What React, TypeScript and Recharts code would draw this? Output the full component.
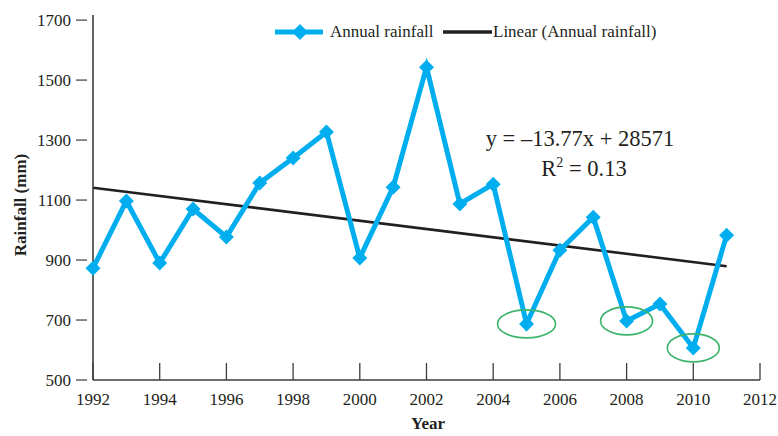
import { LineChart, Line, XAxis, YAxis, ReferenceLine, ReferenceDot } from "recharts";

const years = [1992, 1993, 1994, 1995, 1996, 1997, 1998, 1999, 2000, 2001, 2002, 2003, 2004, 2005, 2006, 2007, 2008, 2009, 2010, 2011];
const rainfall = [873, 1097, 890, 1070, 977, 1157, 1240, 1327, 907, 1143, 1543, 1087, 1153, 687, 933, 1043, 697, 753, 607, 983];
const xTicks = [1992, 1994, 1996, 1998, 2000, 2002, 2004, 2006, 2008, 2010, 2012];
const yTicks = [500, 700, 900, 1100, 1300, 1500, 1700];
// fitted trend, as printed on the chart
const trendSlope = -13.77;
const trendIntercept = 28571;
const circledYears = [2005, 2008, 2010];

const data = years.map((year, i) => ({ year, rainfall: rainfall[i] }));
const trendAt = (year: number) => trendSlope * year + trendIntercept;

const BLUE = "#00aeef";
const INK = "#231f20";
const AXIS = "#3d3d3d";
const GREEN = "#3cb46e";
const FONT = "'Liberation Serif', 'Times New Roman', serif";

const Diamond = (props: any) => {
  const { cx, cy, index } = props;
  const r = 7.5;
  return (
    <polygon
      key={`d-${index}`}
      points={`${cx},${cy - r} ${cx + r},${cy} ${cx},${cy + r} ${cx - r},${cy}`}
      fill={BLUE}
    />
  );
};

const XTick = (props: any) => {
  const { x, y, payload } = props;
  return (
    <g>
      <line x1={x} x2={x} y1={y} y2={y - 17} stroke={AXIS} strokeWidth={1.3} />
      <text x={x} y={y + 25} textAnchor="middle" fontSize={17} fontFamily={FONT} fill={INK}>
        {payload.value}
      </text>
    </g>
  );
};

const YTick = (props: any) => {
  const { x, y, payload } = props;
  return (
    <g>
      <line x1={x - 17} x2={x - 6} y1={y} y2={y} stroke={AXIS} strokeWidth={1.2} />
      <text x={x - 22} y={y + 6} textAnchor="end" fontSize={17} fontFamily={FONT} fill={INK}>
        {payload.value}
      </text>
    </g>
  );
};

const Ring = (rx: number) => (props: any) => (
  <ellipse cx={props.cx} cy={props.cy} rx={rx} ry={14} fill="none" stroke={GREEN} strokeWidth={1.6} />
);

export default function App() {
  return (
    <div style={{ position: "absolute", left: 0, top: 0, width: 778, height: 436, background: "#fff" }}>
      <LineChart width={778} height={436} data={data} margin={{ top: 15, right: 18, bottom: 26, left: 33 }}>
        <XAxis
          dataKey="year"
          type="number"
          domain={[1992, 2012]}
          ticks={xTicks}
          interval={0}
          height={30}
          tickSize={0}
          tickMargin={0}
          tickLine={false}
          axisLine={{ stroke: AXIS, strokeWidth: 1.6 }}
          tick={<XTick />}
        />
        <YAxis
          type="number"
          domain={[500, 1717]}
          ticks={yTicks}
          interval={0}
          width={60}
          tickSize={0}
          tickMargin={0}
          tickLine={false}
          axisLine={{ stroke: AXIS, strokeWidth: 1.6 }}
          tick={<YTick />}
        />
        <ReferenceLine
          segment={[
            { x: 1992, y: trendAt(1992) },
            { x: 2011, y: trendAt(2011) },
          ]}
          stroke={INK}
          strokeWidth={2.6}
          ifOverflow="visible"
        />
        <Line
          type="linear"
          dataKey="rainfall"
          stroke={BLUE}
          strokeWidth={5}
          dot={Diamond}
          activeDot={false}
          isAnimationActive={false}
        />
        {circledYears.map((yr) => (
          <ReferenceDot
            key={yr}
            x={yr}
            y={rainfall[years.indexOf(yr)]}
            r={14}
            shape={Ring(yr === 2005 ? 29 : 26)}
            ifOverflow="visible"
          />
        ))}
      </LineChart>
      <svg
        width={778}
        height={436}
        style={{ position: "absolute", left: 0, top: 0, pointerEvents: "none" }}
        fontFamily={FONT}
        fill={INK}
      >
        {/* legend */}
        <line x1={275} x2={323} y1={32} y2={32} stroke={BLUE} strokeWidth={5} />
        <polygon points="300,24 308,32 300,40 292,32" fill={BLUE} />
        <text x={330} y={37} fontSize={17}>Annual rainfall</text>
        <line x1={443} x2={492} y1={32} y2={32} stroke={INK} strokeWidth={3.5} />
        <text x={493} y={37} fontSize={17}>Linear (Annual rainfall)</text>

        {/* trend equation */}
        <text x={580} y={146} textAnchor="middle" fontSize={22.5}>y = –13.77x + 28571</text>
        <text x={584} y={176} textAnchor="middle" fontSize={22.5}>
          R<tspan dy={-9} fontSize={14}>2</tspan>
          <tspan dy={9}> = 0.13</tspan>
        </text>

        {/* axis titles */}
        <text x={428} y={429} textAnchor="middle" fontSize={17} fontWeight="bold">Year</text>
        <text transform="translate(26,205) rotate(-90)" textAnchor="middle" fontSize={17} fontWeight="bold">
          Rainfall (mm)
        </text>
      </svg>
    </div>
  );
}
